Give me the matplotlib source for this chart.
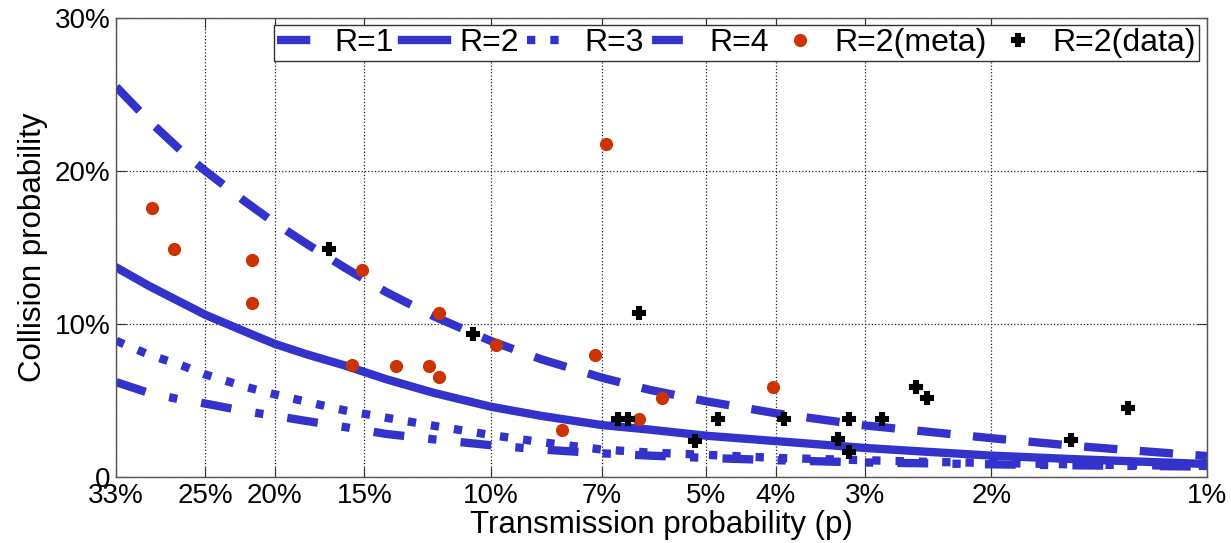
import matplotlib.pyplot as plt
from matplotlib.ticker import NullLocator

plt.rcParams['font.family'] = ['Liberation Sans', 'DejaVu Sans']

# theoretical curves, read at these transmission probabilities
p_curve = [0.333, 0.30, 0.27, 0.25, 0.22, 0.20, 0.18, 0.16, 0.14, 0.12, 0.10,
           0.085, 0.07, 0.06, 0.05, 0.04, 0.03, 0.025, 0.02, 0.015, 0.01]
r1 = [0.255, 0.233, 0.213, 0.200, 0.180, 0.166, 0.152, 0.137, 0.121, 0.105, 0.089,
      0.077, 0.065, 0.057, 0.0495, 0.0417, 0.0337, 0.030, 0.0254, 0.020, 0.0137]
r2 = [0.137, 0.125, 0.114, 0.106, 0.095, 0.087, 0.080, 0.073, 0.064, 0.055, 0.046,
      0.040, 0.034, 0.031, 0.027, 0.0235, 0.019, 0.0167, 0.014, 0.0115, 0.0085]
r3 = [0.089, 0.080, 0.073, 0.067, 0.059, 0.054, 0.049, 0.0436, 0.0388, 0.0335, 0.0275,
      0.0228, 0.018, 0.016, 0.0145, 0.0125, 0.011, 0.010, 0.0092, 0.0082, 0.0072]
r4 = [0.062, 0.055, 0.0505, 0.048, 0.043, 0.040, 0.0365, 0.0327, 0.0282, 0.0246, 0.0208,
      0.018, 0.0155, 0.014, 0.0125, 0.011, 0.0095, 0.009, 0.0083, 0.0076, 0.0068]

# measured points
meta_p = [0.2972, 0.2763, 0.2155, 0.2155, 0.1510, 0.1179, 0.0984, 0.1563, 0.1357,
          0.1220, 0.1179, 0.0690, 0.0715, 0.0577, 0.0620, 0.0796, 0.0404]
meta_c = [0.176, 0.149, 0.142, 0.114, 0.135, 0.107, 0.086, 0.073, 0.0725,
          0.0725, 0.0656, 0.2176, 0.0795, 0.0518, 0.0379, 0.0307, 0.059]
data_p = [0.1681, 0.1057, 0.0620, 0.0665, 0.0642, 0.0482, 0.0518, 0.0390, 0.0327,
          0.0316, 0.0316, 0.0284, 0.0255, 0.0246, 0.0155, 0.0129]
data_c = [0.149, 0.0935, 0.107, 0.038, 0.038, 0.038, 0.0237, 0.038, 0.0246,
          0.038, 0.0166, 0.038, 0.0586, 0.0518, 0.0242, 0.0449]

x_ticks = [1/3, 0.25, 0.20, 0.15, 0.10, 0.07, 0.05, 0.04, 0.03, 0.02, 0.01]
x_labels = ['33%', '25%', '20%', '15%', '10%', '7%', '5%', '4%', '3%', '2%', '1%']
y_ticks = [0, 0.1, 0.2, 0.3]
y_labels = ['0', '10%', '20%', '30%']

blue = '#3333CC'
lw = 6

fig = plt.figure(figsize=(12.31, 5.43), dpi=100)
ax = fig.add_axes([0.0942, 0.1215, 0.8863, 0.8453])

ax.plot(p_curve, r1, color=blue, lw=lw, dashes=(4, 2.7), label='R=1')
ax.plot(p_curve, r2, color=blue, lw=lw, label='R=2')
ax.plot(p_curve, r3, color=blue, lw=lw, dashes=(1, 1.8), label='R=3')
ax.plot(p_curve, r4, color=blue, lw=lw, dashes=(3.7, 2.9, 1, 2.9), label='R=4')
ax.plot(meta_p, meta_c, 'o', color='#CC3300', ms=9.5, mec='none', label='R=2(meta)')
ax.plot(data_p, data_c, 'P', color='black', ms=9, mec='black', mew=1.5,
        label='R=2(data)')

ax.set_xscale('log')
ax.set_xlim(1/3, 0.01)
ax.set_ylim(0, 0.3)
ax.xaxis.set_minor_locator(NullLocator())
ax.set_xticks(x_ticks)
ax.set_xticklabels(x_labels)
ax.set_yticks(y_ticks)
ax.set_yticklabels(y_labels)
ax.tick_params(direction='in', length=7, width=0.8, top=True, right=True,
               labelsize=20, pad=4, colors='#333333', labelcolor='black')
ax.grid(True, color='#222222', ls=':', lw=0.9)
for s in ax.spines.values():
    s.set_color('#555555')
    s.set_linewidth(1.0)

ax.set_xlabel('Transmission probability (p)', fontsize=22.5, labelpad=1)
ax.set_ylabel('Collision probability', fontsize=22.5, labelpad=5)

leg = ax.legend(loc='upper right', bbox_to_anchor=(0.993, 0.985), borderaxespad=0,
                ncol=6, fontsize=23, handlelength=1.4, handletextpad=0.4,
                columnspacing=0.25, borderpad=0.1, fancybox=False, framealpha=1,
                edgecolor='#333333', numpoints=1)
leg.get_frame().set_linewidth(1.0)

fig.savefig('out.png', dpi=100)
